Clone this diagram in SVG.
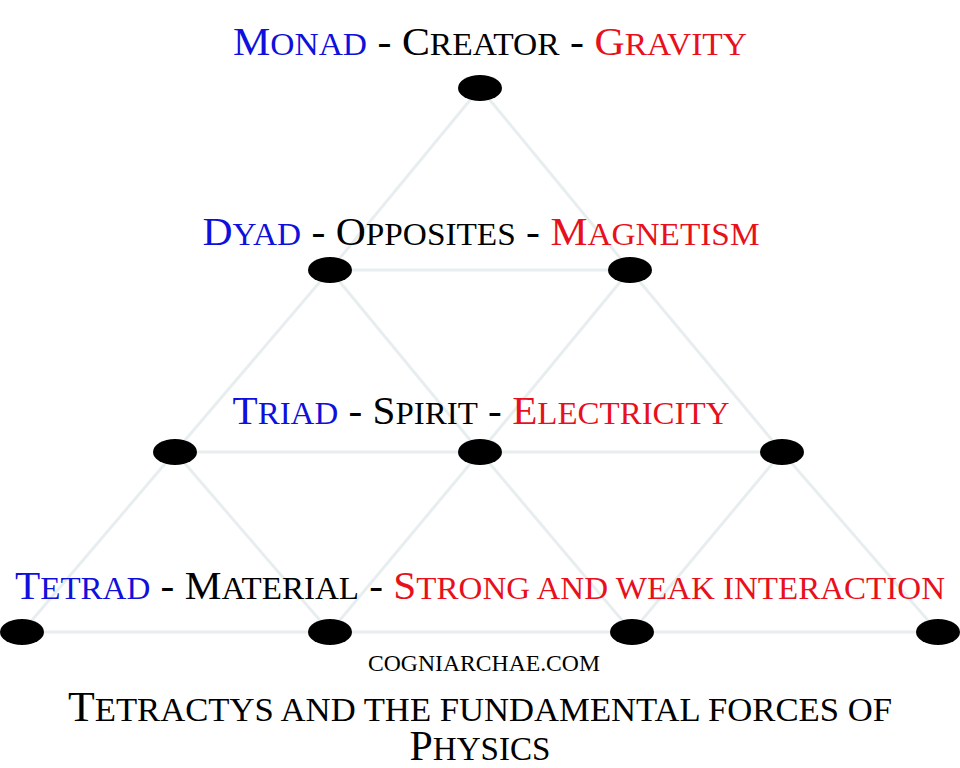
<svg xmlns="http://www.w3.org/2000/svg" width="960" height="768" viewBox="0 0 960 768">
<style>
.lbl{font-family:"Liberation Serif","DejaVu Serif",serif;text-anchor:middle;font-size:40px}
.s{font-size:32px}
.t{font-size:34px}
.b{fill:#1010dd}
.k{fill:#000}
.r{fill:#e8101c}
.edge{stroke:#e8eef0;stroke-width:3;fill:none}
.node{fill:#000}
</style>
<rect width="960" height="768" fill="#fff"/>
<g id="connectors" class="edge">
<path d="M480,88L330,270M480,88L630,270M330,270L630,270"/>
<path d="M330,270L175,452M330,270L480,452M630,270L480,452M630,270L782,452M175,452L782,452"/>
<path d="M175,452L22,632M175,452L330,632M480,452L330,632M480,452L632,632M782,452L632,632M782,452L938,632M22,632L938,632"/>
</g>
<g id="n1"><ellipse class="node" cx="480" cy="88" rx="22" ry="13"/></g>
<g id="n2"><ellipse class="node" cx="330" cy="270" rx="22" ry="13"/></g>
<g id="n3"><ellipse class="node" cx="630" cy="270" rx="22" ry="13"/></g>
<g id="n4"><ellipse class="node" cx="175" cy="452" rx="22" ry="13"/></g>
<g id="n5"><ellipse class="node" cx="480" cy="452" rx="22" ry="13"/></g>
<g id="n6"><ellipse class="node" cx="782" cy="452" rx="22" ry="13"/></g>
<g id="n7"><ellipse class="node" cx="22" cy="632" rx="22" ry="13"/></g>
<g id="n8"><ellipse class="node" cx="330" cy="632" rx="22" ry="13"/></g>
<g id="n9"><ellipse class="node" cx="632" cy="632" rx="22" ry="13"/></g>
<g id="n10"><ellipse class="node" cx="938" cy="632" rx="22" ry="13"/></g>
<g id="labels">
<text class="lbl" x="490" y="55" textLength="514" lengthAdjust="spacingAndGlyphs"><tspan class="b">M<tspan class="s">ONAD</tspan></tspan><tspan class="k"> - C<tspan class="s">REATOR</tspan> - </tspan><tspan class="r">G<tspan class="s">RAVITY</tspan></tspan></text>
<text class="lbl" x="481" y="245" textLength="557" lengthAdjust="spacingAndGlyphs"><tspan class="b">D<tspan class="s">YAD</tspan></tspan><tspan class="k"> - O<tspan class="s">PPOSITES</tspan> - </tspan><tspan class="r">M<tspan class="s">AGNETISM</tspan></tspan></text>
<text class="lbl" x="481" y="424" textLength="497" lengthAdjust="spacingAndGlyphs"><tspan class="b">T<tspan class="s">RIAD</tspan></tspan><tspan class="k"> - S<tspan class="s">PIRIT</tspan> - </tspan><tspan class="r">E<tspan class="s">LECTRICITY</tspan></tspan></text>
<text class="lbl" x="480" y="599" textLength="930" lengthAdjust="spacingAndGlyphs"><tspan class="b">T<tspan class="s">ETRAD</tspan></tspan><tspan class="k"> - M<tspan class="s">ATERIAL</tspan> - </tspan><tspan class="r">S<tspan class="s">TRONG AND WEAK INTERACTION</tspan></tspan></text>
<text class="lbl k" x="484" y="671" style="font-size:23px" textLength="232" lengthAdjust="spacingAndGlyphs">COGNIARCHAE.COM</text>
<text class="lbl k" x="480" y="721" style="font-size:43px" textLength="824" lengthAdjust="spacingAndGlyphs">T<tspan class="t">ETRACTYS AND THE FUNDAMENTAL FORCES OF</tspan></text>
<text class="lbl k" x="480" y="760" style="font-size:43px" textLength="141" lengthAdjust="spacingAndGlyphs">P<tspan class="t">HYSICS</tspan></text>
</g>
</svg>
